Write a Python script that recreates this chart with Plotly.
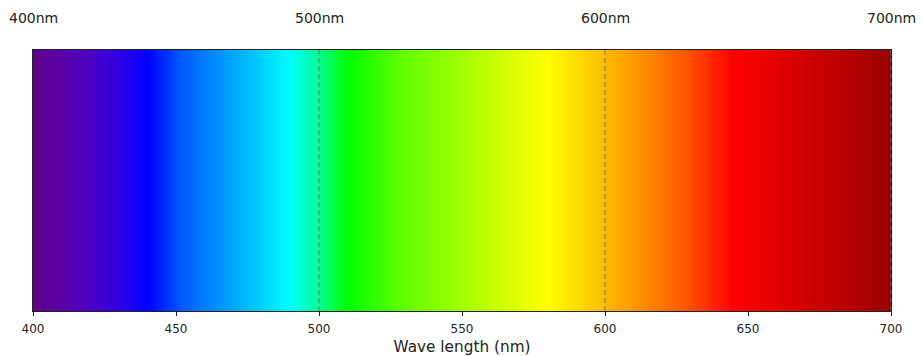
import plotly.graph_objects as go

# Sampled wavelengths across the visible band (nm)
wavelengths = list(range(400, 701))

# Colour stops of the spectrum, wavelength (nm) -> RGB
stop_nm = [400, 410, 420, 430, 440, 452, 465, 478, 490, 500, 510,
           527, 545, 562, 580, 596, 612, 628, 645, 660, 672, 686, 700]
stop_colors = [
    "#5e0088", "#5800a8", "#4c00c4", "#3000e2", "#0000ff",
    "#0058ff", "#0092ff", "#00c8ff", "#00ffff", "#00ff92", "#00ff00",
    "#58ff00", "#92ff00", "#c8ff00", "#ffff00", "#ffc800", "#ff9200",
    "#ff5800", "#ff0000", "#e40000", "#cc0000", "#b40000", "#980000",
]

# Upper labels and vertical guides
top_label_nm = [400, 500, 600, 700]
top_label_text = ["400nm", "500nm", "600nm", "700nm"]
guide_nm = [500, 600, 700]

# Bottom tick positions
tick_nm = [400, 450, 500, 550, 600, 650, 700]

lo, hi = stop_nm[0], stop_nm[-1]
colorscale = [[(w - lo) / (hi - lo), c] for w, c in zip(stop_nm, stop_colors)]

fig = go.Figure()
fig.add_trace(go.Heatmap(
    x=wavelengths,
    y=[0],
    z=[wavelengths],
    zmin=lo,
    zmax=hi,
    colorscale=colorscale,
    showscale=False,
    hoverinfo="x",
))

for w in guide_nm:
    fig.add_shape(type="line", xref="x", yref="paper", x0=w, x1=w, y0=0, y1=1,
                  line=dict(color="rgba(120,120,120,0.7)", width=1.5, dash="5px,3px"))

for w, t in zip(top_label_nm, top_label_text):
    fig.add_annotation(x=w, xref="x", y=1, yref="paper", text=t, showarrow=False,
                       yanchor="middle", yshift=32,
                       font=dict(family="DejaVu Sans", size=14, color="#222"))

fig.update_layout(
    width=922, height=356,
    margin=dict(l=33, r=31, t=50, b=45),
    paper_bgcolor="white", plot_bgcolor="white",
    font=dict(family="DejaVu Sans", color="#222"),
    xaxis=dict(
        range=[400, 700], tickvals=tick_nm, ticktext=[str(v) for v in tick_nm],
        ticks="outside", ticklen=4, tickcolor="#222", tickwidth=1,
        tickfont=dict(size=12), ticklabelstandoff=3, automargin=False,
        showline=True, linecolor="#222", linewidth=1,
        mirror=True, showgrid=False, zeroline=False,
        title=dict(text="Wave length (nm)", font=dict(size=15.3), standoff=7),
    ),
    yaxis=dict(range=[-0.5, 0.5], showticklabels=False, ticks="", showgrid=False,
               zeroline=False, showline=True, linecolor="#222", linewidth=1, mirror=True),
)

fig.write_html("out.html")
